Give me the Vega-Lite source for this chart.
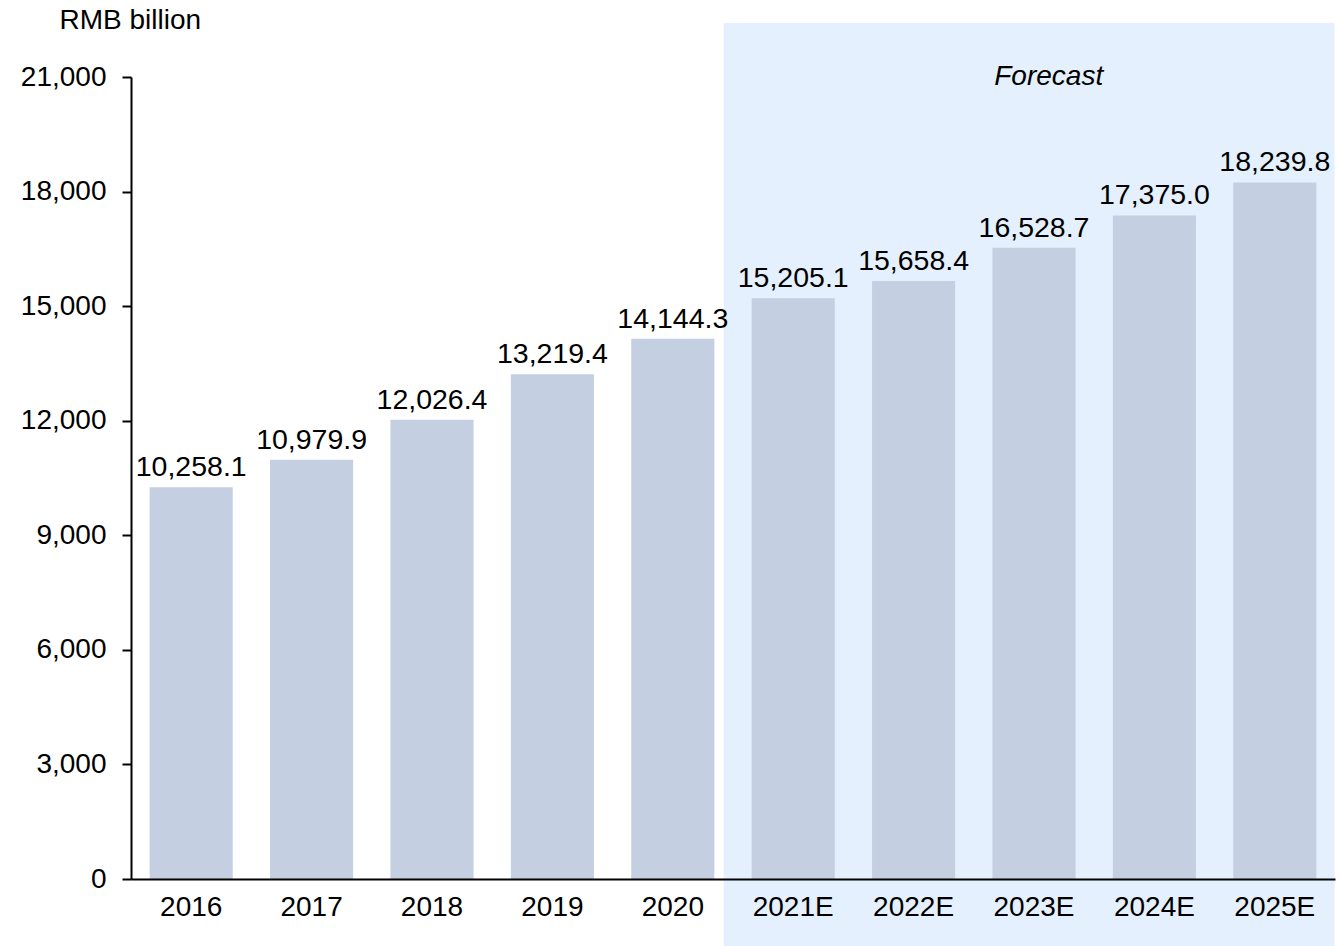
{
  "$schema": "https://vega.github.io/schema/vega-lite/v6.json",
  "width": 1204,
  "height": 802,
  "autosize": {"type": "none"},
  "padding": {"left": 131, "top": 77, "right": 6, "bottom": 67},
  "background": "white",
  "config": {
    "view": {"stroke": null},
    "font": "Liberation Sans",
    "axis": {"labelFont": "Liberation Sans", "titleFont": "Liberation Sans", "labelColor": "#000000", "titleColor": "#000000", "domainColor": "#000000", "tickColor": "#000000", "grid": false, "labelFontSize": 28, "titleFontSize": 28, "domainWidth": 2},
    "axisX": {"labelAngle": 0, "labelPadding": 14, "ticks": false, "bandPosition": 0.5, "title": null},
    "axisY": {"labelPadding": 16, "tickSize": 9, "tickWidth": 2}
  },
  "datasets": {
    "bars": [
      {"year": "2016", "value": 10258.1},
      {"year": "2017", "value": 10979.9},
      {"year": "2018", "value": 12026.4},
      {"year": "2019", "value": 13219.4},
      {"year": "2020", "value": 14144.3},
      {"year": "2021E", "value": 15205.1},
      {"year": "2022E", "value": 15658.4},
      {"year": "2023E", "value": 16528.7},
      {"year": "2024E", "value": 17375.0},
      {"year": "2025E", "value": 18239.8}
    ]
  },
  "layer": [
    {
      "data": {"values": [{"from": "2021E", "to": "2025E", "top": 22414, "bottom": -1754}]},
      "mark": {"type": "rect", "color": "#e4f0fd", "clip": false},
      "encoding": {
        "x": {"field": "from", "type": "nominal", "bandPosition": -0.337, "sort": null},
        "x2": {"field": "to", "bandPosition": 1.22},
        "y": {"field": "top", "type": "quantitative"},
        "y2": {"field": "bottom"}
      }
    },
    {
      "data": {"name": "bars"},
      "mark": {"type": "bar", "color": "#c4cfe1"},
      "encoding": {
        "x": {
          "field": "year", "type": "nominal", "sort": null,
          "scale": {"paddingInner": 0.31, "paddingOuter": 0.155},
          "axis": {"title": null, "labelAngle": 0, "bandPosition": 0.5}
        },
        "y": {
          "field": "value", "type": "quantitative",
          "scale": {"domain": [0, 21000], "nice": false},
          "axis": {
            "values": [0, 3000, 6000, 9000, 12000, 15000, 18000, 21000],
            "format": ",.0f",
            "title": "RMB billion", "titleAngle": 0, "titleFontWeight": "normal",
            "titleAlign": "left", "titleBaseline": "middle", "titleX": -72, "titleY": -57
          }
        }
      }
    },
    {
      "data": {"name": "bars"},
      "mark": {"type": "text", "fontSize": 28.5, "baseline": "alphabetic", "dy": -11, "color": "#000000"},
      "encoding": {
        "x": {"field": "year", "type": "nominal", "sort": null},
        "y": {"field": "value", "type": "quantitative"},
        "text": {"field": "value", "type": "quantitative", "format": ",.1f"}
      }
    },
    {
      "data": {"values": [{"year": "2023E", "value": 21000, "label": "Forecast"}]},
      "mark": {"type": "text", "fontSize": 28, "fontStyle": "italic", "baseline": "middle", "color": "#000000"},
      "encoding": {
        "x": {"field": "year", "type": "nominal", "bandPosition": 0.677},
        "y": {"field": "value", "type": "quantitative"},
        "text": {"field": "label"}
      }
    }
  ]
}
